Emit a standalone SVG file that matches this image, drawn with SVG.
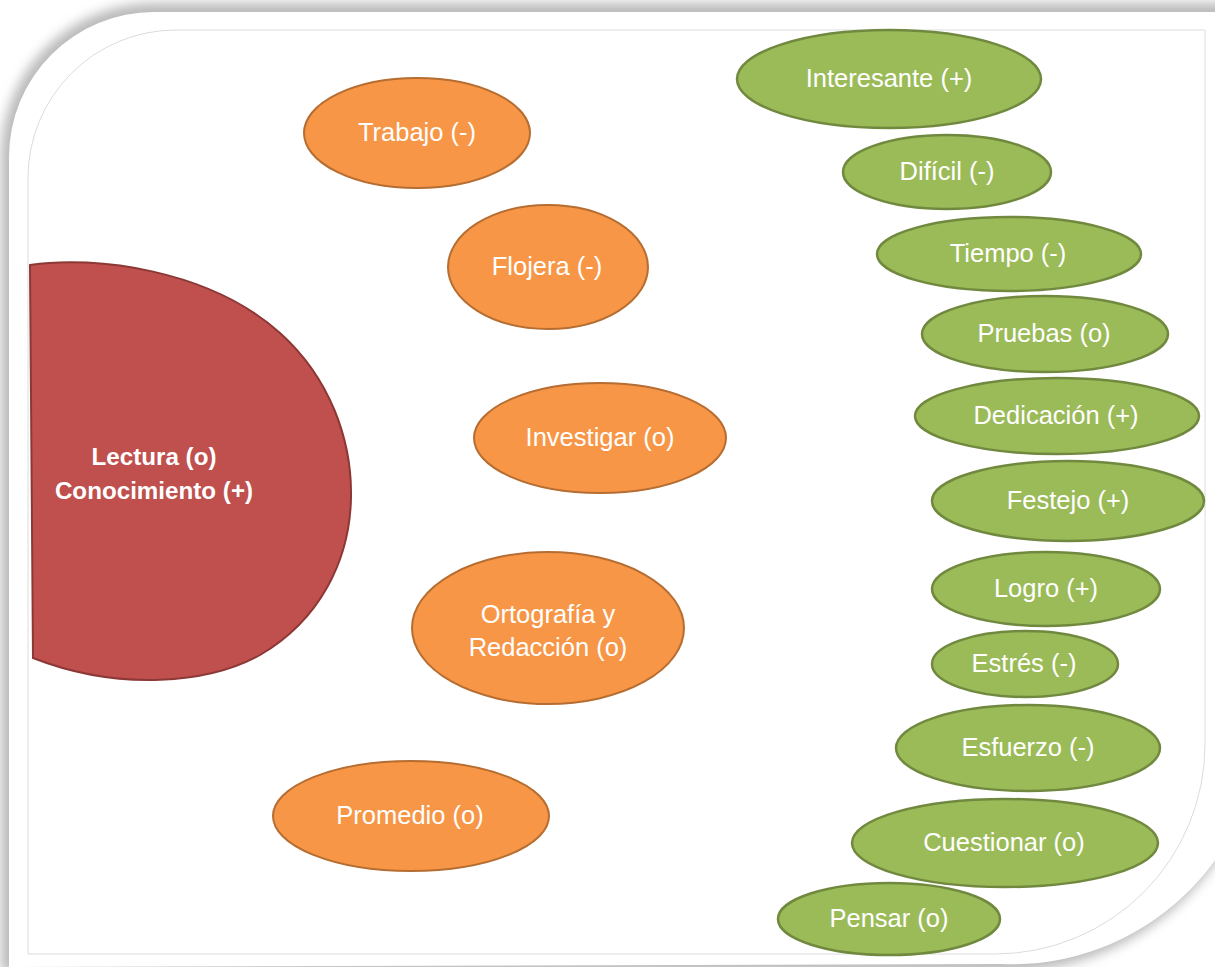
<svg xmlns="http://www.w3.org/2000/svg" width="1215" height="967" viewBox="0 0 1215 967">
  <defs>
    <filter id="blur" x="-10%" y="-10%" width="120%" height="120%">
      <feGaussianBlur stdDeviation="6"/>
    </filter>
    <style>
      .or { fill: #F79646; stroke: #B66D31; stroke-width: 2; }
      .gr { fill: #9BBB59; stroke: #71893F; stroke-width: 2.5; }
      .t { font-family: "Liberation Sans", Arial, sans-serif; font-size: 25.5px; fill: #FFFFFF; text-anchor: middle; }
      .tb { font-family: "Liberation Sans", Arial, sans-serif; font-size: 24.2px; font-weight: bold; fill: #FFFFFF; text-anchor: middle; }
    </style>
  </defs>

  <!-- frame -->
  <g id="frame">
    <rect x="0" y="0" width="1215" height="967" fill="#FFFFFF"/>
    <path d="M1,157 A153,153 0 0 1 154,3 L1262,3 L1262,714 A258,258 0 0 1 1001,972 L1,972 Z" fill="#A8A8A8" opacity="0.8" filter="url(#blur)"/>
    <path d="M9,157 A145,145 0 0 1 154,12 L1262,12 L1262,714 A250,250 0 0 1 1001,964 L9,967 L9,980 Z" fill="#FFFFFF"/>
    <path d="M28,178 A148,148 0 0 1 176,30 L1205,30 L1205,743 A210,210 0 0 1 995,954 L28,954 Z" fill="none" stroke="#DCDCDC" stroke-width="1"/>
  </g>

  <g id="connectors"></g>

  <g id="lectura">
    <path d="M30,265 C95,255 210,270 280,333 C330,378 352,440 351,497 C350,560 320,620 260,655 C210,683 120,692 33,658 Z" fill="#C0504D" stroke="#8C3836" stroke-width="2"/>
    <text class="tb" x="154" y="465">Lectura (o)</text>
    <text class="tb" x="154" y="499">Conocimiento (+)</text>
  </g>

  <g id="trabajo"><ellipse class="or" cx="417" cy="133" rx="113" ry="55"/><text class="t" x="417" y="141">Trabajo (-)</text></g>
  <g id="flojera"><ellipse class="or" cx="548" cy="267" rx="100" ry="62"/><text class="t" x="547" y="275">Flojera (-)</text></g>
  <g id="investigar"><ellipse class="or" cx="600" cy="438" rx="126" ry="55"/><text class="t" x="600" y="446">Investigar (o)</text></g>
  <g id="ortografia"><ellipse class="or" cx="548" cy="628" rx="136" ry="76"/><text class="t" x="548" y="623">Ortografía y</text><text class="t" x="548" y="656">Redacción (o)</text></g>
  <g id="promedio"><ellipse class="or" cx="411" cy="816" rx="138" ry="55"/><text class="t" x="410" y="824">Promedio (o)</text></g>

  <g id="interesante"><ellipse class="gr" cx="889" cy="79" rx="152" ry="49"/><text class="t" x="889" y="87">Interesante (+)</text></g>
  <g id="dificil"><ellipse class="gr" cx="947" cy="172" rx="104" ry="37"/><text class="t" x="947" y="180">Difícil (-)</text></g>
  <g id="tiempo"><ellipse class="gr" cx="1009" cy="254" rx="132" ry="37"/><text class="t" x="1008" y="262">Tiempo (-)</text></g>
  <g id="pruebas"><ellipse class="gr" cx="1045" cy="334" rx="123" ry="38"/><text class="t" x="1044" y="342">Pruebas (o)</text></g>
  <g id="dedicacion"><ellipse class="gr" cx="1057" cy="416" rx="142" ry="38"/><text class="t" x="1056" y="424">Dedicación (+)</text></g>
  <g id="festejo"><ellipse class="gr" cx="1068" cy="501" rx="136" ry="40"/><text class="t" x="1068" y="509">Festejo (+)</text></g>
  <g id="logro"><ellipse class="gr" cx="1046" cy="589" rx="114" ry="37"/><text class="t" x="1046" y="597">Logro (+)</text></g>
  <g id="estres"><ellipse class="gr" cx="1025" cy="664" rx="93" ry="33"/><text class="t" x="1024" y="672">Estrés (-)</text></g>
  <g id="esfuerzo"><ellipse class="gr" cx="1028" cy="748" rx="132" ry="43"/><text class="t" x="1028" y="756">Esfuerzo (-)</text></g>
  <g id="cuestionar"><ellipse class="gr" cx="1005" cy="843" rx="153" ry="44"/><text class="t" x="1004" y="851">Cuestionar (o)</text></g>
  <g id="pensar"><ellipse class="gr" cx="889" cy="919" rx="111" ry="36"/><text class="t" x="889" y="927">Pensar (o)</text></g>
</svg>
